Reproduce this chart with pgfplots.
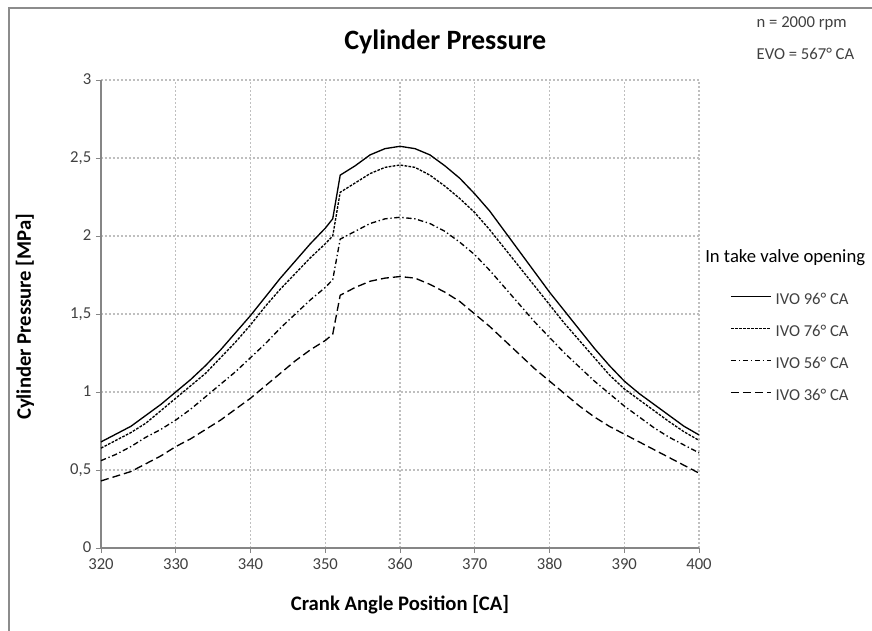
\documentclass[border=0pt]{standalone}
\usepackage{pgfplots}
\usepackage{pgfplotstable}
\pgfplotsset{compat=1.18}
\usepackage{fontspec}
\setmainfont{Carlito}
\definecolor{gridc}{HTML}{BFBFBF}
\definecolor{axc}{HTML}{868686}
\definecolor{tickc}{HTML}{404040}
\definecolor{framec}{HTML}{8C8C8C}

\pgfplotstableread{
x a b c d
320 0.68 0.64 0.56 0.43
322 0.73 0.69 0.60 0.46
324 0.78 0.74 0.65 0.49
326 0.85 0.80 0.71 0.54
328 0.92 0.88 0.76 0.59
330 1.00 0.96 0.82 0.65
332 1.08 1.04 0.89 0.70
334 1.17 1.12 0.97 0.76
336 1.27 1.22 1.05 0.82
338 1.38 1.32 1.13 0.89
340 1.49 1.43 1.22 0.96
342 1.61 1.55 1.31 1.04
344 1.73 1.66 1.41 1.12
346 1.84 1.76 1.50 1.20
348 1.95 1.86 1.59 1.27
350 2.05 1.95 1.67 1.33
351 2.11 2.00 1.72 1.37
352 2.39 2.28 1.98 1.62
354 2.45 2.34 2.03 1.67
356 2.52 2.40 2.08 1.71
358 2.56 2.44 2.11 1.73
360 2.575 2.455 2.12 1.74
362 2.56 2.44 2.11 1.73
364 2.52 2.39 2.08 1.69
366 2.45 2.32 2.03 1.64
368 2.37 2.24 1.96 1.58
370 2.27 2.15 1.88 1.50
372 2.16 2.04 1.78 1.42
374 2.03 1.92 1.67 1.33
376 1.90 1.80 1.56 1.24
378 1.77 1.68 1.45 1.15
380 1.64 1.56 1.35 1.07
382 1.52 1.44 1.25 0.99
384 1.40 1.33 1.16 0.91
386 1.28 1.22 1.07 0.84
388 1.17 1.11 0.99 0.78
390 1.07 1.02 0.91 0.73
392 0.99 0.95 0.84 0.68
394 0.92 0.88 0.77 0.63
396 0.85 0.81 0.71 0.58
398 0.78 0.745 0.66 0.53
400 0.725 0.69 0.61 0.48
}\datatable

\begin{document}
\begin{tikzpicture}
\useasboundingbox (0,0) rectangle (654pt,473.25pt);
\draw[framec, line width=1.5pt] (6.375pt,0) -- (6.375pt,467.6pt) -- (654pt,467.6pt);
\begin{axis}[
  at={(75.75pt,62.25pt)}, anchor=south west,
  scale only axis, width=448.5pt, height=351pt,
  xmin=320, xmax=400, ymin=0, ymax=3,
  xtick={320,330,340,350,360,370,380,390,400}, ytick={0,0.5,1,1.5,2,2.5,3},
  axis x line=bottom, axis y line=left,
  axis line style={axc, line width=0.8pt, -},
  tick align=outside, major tick length=3.75pt,
  tick style={axc, line width=0.6pt},
  grid=major, major grid style={gridc, dash pattern=on 1.5pt off 1.5pt, line width=0.8pt},
  /pgf/number format/assume math mode=true,
  /pgf/number format/use comma,
  ticklabel style={font=\fontsize{12.5}{14}\selectfont, text=tickc, text height=8.5pt, text depth=1pt},
  xlabel={\textbf{Crank Angle Position [CA]}},
  ylabel={\textbf{Cylinder Pressure [MPa]}},
  label style={font=\fontsize{15.5}{18}\selectfont},
  xlabel style={at={(axis description cs:0.5,-0.122)}, anchor=center},
  ylabel style={at={(axis description cs:-0.127,0.494)}, anchor=center},
  legend style={at={(1.0518,0.547)}, anchor=north west, draw=none, fill=none,
    font=\fontsize{12.5}{14}\selectfont, text=tickc, row sep=12pt, inner sep=0pt,
    nodes={inner sep=0pt, text height=9pt, text depth=3pt}, column sep=3pt},
  legend cell align=left,
  legend image code/.code={\draw[#1, line width=1pt] (0pt,3pt) -- (30pt,3pt);},
  clip=false,
]
\addplot[black, line width=1pt] table[x=x, y=a] {\datatable};
\addlegendentry{IVO 96° CA}
\addplot[black, line width=1pt, dash pattern=on 2pt off 1pt] table[x=x, y=b] {\datatable};
\addlegendentry{IVO 76° CA}
\addplot[black, line width=1pt, dash pattern=on 4pt off 2pt on 1pt off 2pt] table[x=x, y=c] {\datatable};
\addlegendentry{IVO 56° CA}
\addplot[black, line width=1pt, dash pattern=on 6pt off 3pt] table[x=x, y=d] {\datatable};
\addlegendentry{IVO 36° CA}
\end{axis}
\node[font=\fontsize{21}{24}\selectfont\bfseries] at (334pt,441.75pt) {Cylinder Pressure};
\node[anchor=west, font=\fontsize{12.5}{14}\selectfont, text=tickc] at (564pt,456pt) {n = 2000 rpm};
\node[anchor=west, font=\fontsize{12.5}{14}\selectfont, text=tickc] at (564pt,433pt) {EVO = 567° CA};
\node[anchor=west, inner sep=0pt, font=\fontsize{14}{16}\selectfont, text=black] at (528.75pt,279.75pt) {In take valve opening};
\end{tikzpicture}
\end{document}
